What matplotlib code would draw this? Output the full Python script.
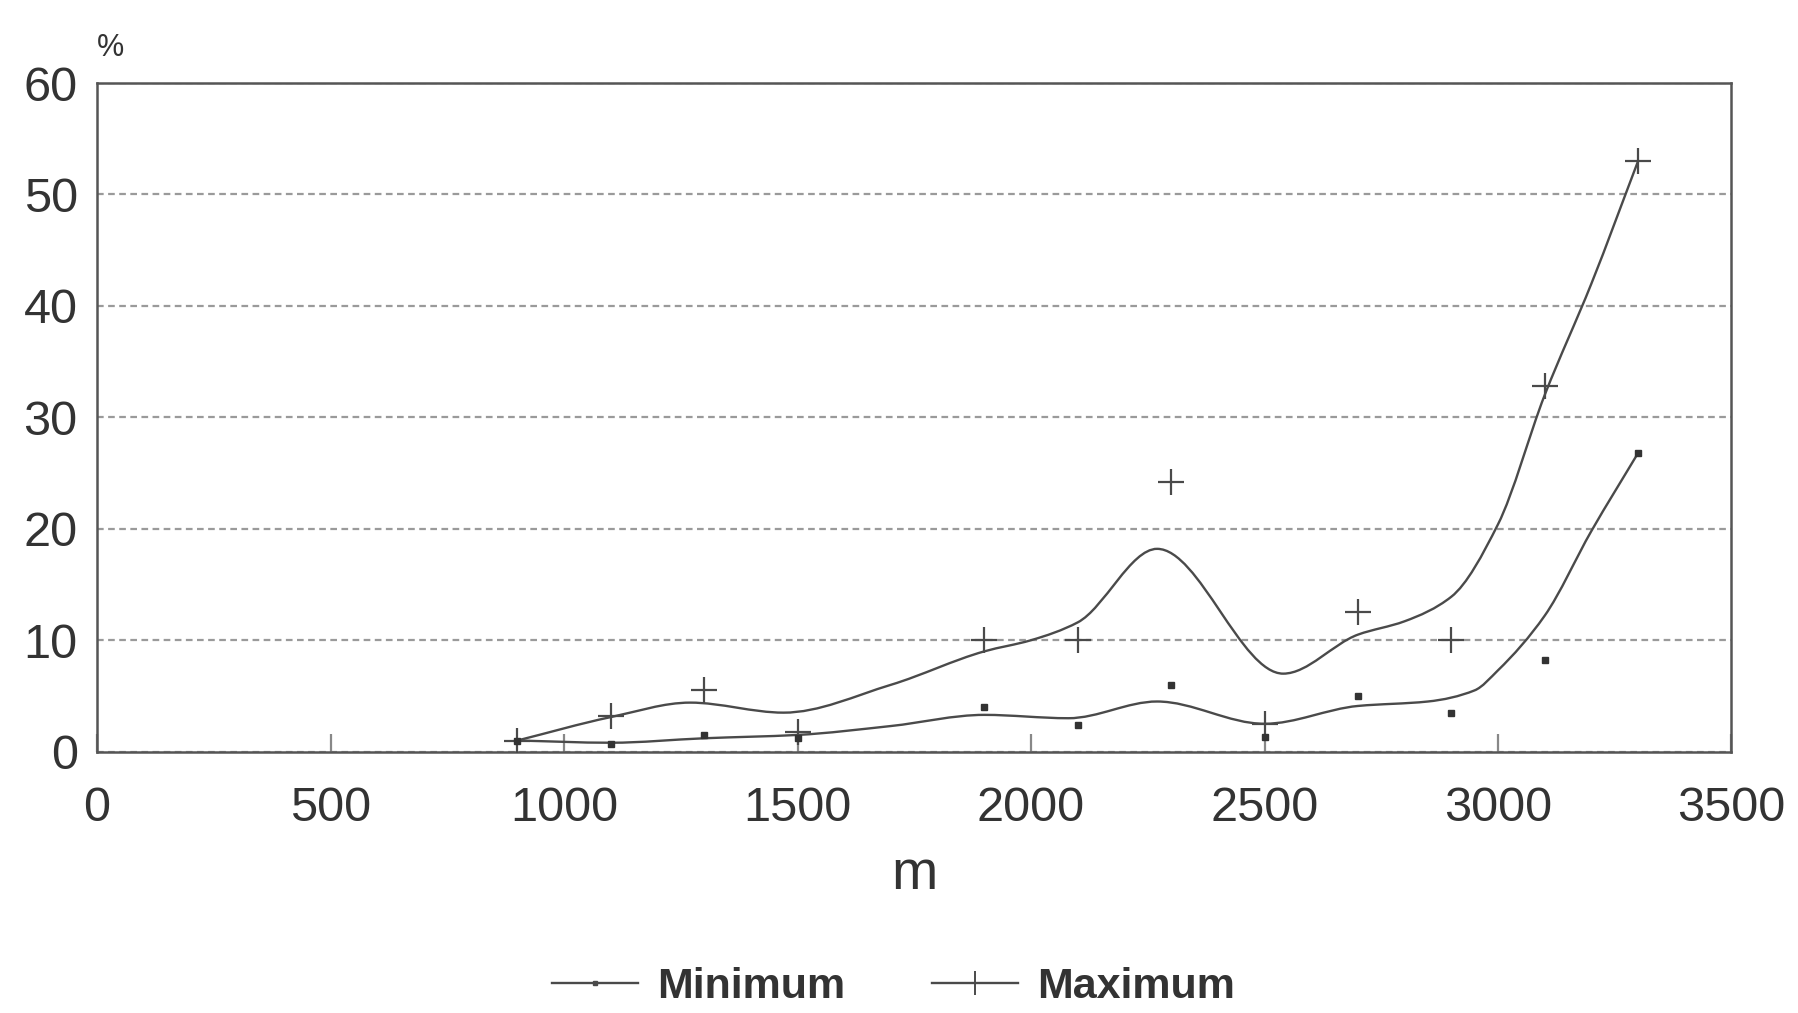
import matplotlib
matplotlib.use("Agg")
import matplotlib.pyplot as plt
from matplotlib.path import Path
from matplotlib.patches import PathPatch
from matplotlib.lines import Line2D
import numpy as np

# measured points (distance in m, share in %)
dist = [900, 1100, 1300, 1500, 1900, 2100, 2300, 2500, 2700, 2900, 3100, 3300]
min_pct = [1.0, 0.7, 1.5, 1.2, 4.0, 2.4, 6.0, 1.3, 5.0, 3.5, 8.2, 26.8]
max_pct = [1.0, 3.2, 5.5, 1.8, 10.0, 10.0, 24.2, 2.5, 12.5, 10.0, 32.8, 53.0]

# smoothed trend lines
min_curve_x = [900, 1100, 1300, 1500, 1700, 1900, 2080, 2270, 2500, 2700, 2850, 2950, 3000, 3100, 3200, 3300]
min_curve_y = [1.0, 0.8, 1.2, 1.5, 2.3, 3.3, 3.0, 4.5, 2.5, 4.1, 4.5, 5.5, 7.3, 12.2, 19.8, 26.8]
max_curve_x = [900, 1100, 1270, 1470, 1700, 1900, 2000, 2100, 2270, 2540, 2700, 2800, 2900, 3000, 3100, 3200, 3300]
max_curve_y = [1.0, 3.1, 4.4, 3.5, 6.0, 9.0, 10.0, 11.6, 18.2, 7.0, 10.5, 11.7, 13.9, 20.4, 32.0, 42.0, 53.0]

x_ticks = [0, 500, 1000, 1500, 2000, 2500, 3000, 3500]
y_ticks = [0, 10, 20, 30, 40, 50, 60]

INK = "#4a4a4a"
TXT = "#333333"


def smooth_path(xs, ys):
    #monotone cubic (pchip style) slopes, drawn as bezier segments
    xs = np.asarray(xs, float)
    ys = np.asarray(ys, float)
    n = len(xs)
    h = np.diff(xs)
    d = np.diff(ys) / h
    m = np.zeros(n)
    m[0] = d[0]
    m[-1] = d[-1]
    for i in range(1, n - 1):
        if d[i - 1] * d[i] <= 0:
            m[i] = 0.0
        else:
            w1 = 2 * h[i] + h[i - 1]
            w2 = h[i] + 2 * h[i - 1]
            m[i] = (w1 + w2) / (w1 / d[i - 1] + w2 / d[i])
    verts = [(xs[0], ys[0])]
    codes = [Path.MOVETO]
    for i in range(n - 1):
        verts.append((xs[i] + h[i] / 3, ys[i] + m[i] * h[i] / 3))
        verts.append((xs[i + 1] - h[i] / 3, ys[i + 1] - m[i + 1] * h[i] / 3))
        verts.append((xs[i + 1], ys[i + 1]))
        codes += [Path.CURVE4] * 3
    return Path(verts, codes)


plt.rcParams['font.family'] = ['Liberation Sans', 'DejaVu Sans']

fig = plt.figure(figsize=(17.98, 10.13), dpi=100)
ax = fig.add_axes([0.054, 0.258, 0.909, 0.660])

#gridlines first so the curves sit on top
ax.set_axisbelow(True)
ax.yaxis.grid(True, linestyle=(0, (3, 2)), color="#9a9a9a", linewidth=1.6)

for cx, cy in [(min_curve_x, min_curve_y), (max_curve_x, max_curve_y)]:
    ax.add_patch(PathPatch(smooth_path(cx, cy), facecolor="none", edgecolor=INK, linewidth=1.7, zorder=3))

ax.plot(dist, max_pct, linestyle="none", marker="+", markersize=19, markeredgewidth=1.6, color=INK, zorder=4)
ax.plot(dist, min_pct, linestyle="none", marker="s", markersize=4, color="#333333", zorder=4)

ax.set_xlim(0, 3500)
ax.set_ylim(0, 60)
ax.set_xticks(x_ticks)
ax.set_yticks(y_ticks)
ax.tick_params(axis="x", direction="in", length=13, width=1.6, color="#888888",
               labelsize=35, labelcolor=TXT, pad=25)
ax.tick_params(axis="y", length=0, labelsize=35, labelcolor=TXT, pad=14)

for s in ax.spines.values():
    s.set_color("#555555")
    s.set_linewidth(1.8)

ax.set_xlabel("m", fontsize=40, color=TXT, labelpad=13)
ax.text(0.0, 1.03, "%", transform=ax.transAxes, fontsize=22, color=TXT, ha="left", va="bottom")

handles = [
    Line2D([], [], color=INK, linewidth=1.7, marker="s", markersize=3),
    Line2D([], [], color=INK, linewidth=1.7, marker="+", markersize=17, markeredgewidth=1.4),
]
fig.legend(handles, ["Minimum", "Maximum"], loc="lower center", bbox_to_anchor=(0.497, -0.032),
           ncol=2, frameon=False, handlelength=2.0, columnspacing=2.0, handletextpad=0.45,
           prop={"size": 31, "weight": "bold"}, labelcolor=TXT)

fig.savefig("out.png", dpi=100, facecolor="white")
